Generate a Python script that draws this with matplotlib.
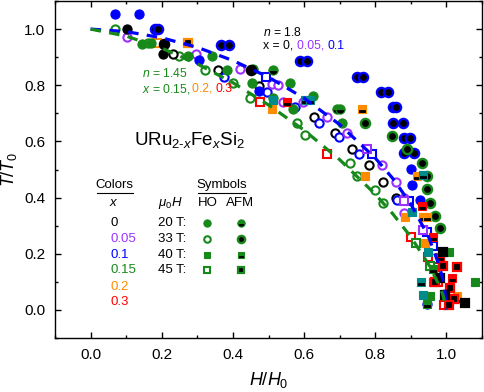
# URu2-xFexSi2 phase diagram, T/T0 vs H/H0
import matplotlib
matplotlib.use('Agg')
import matplotlib.pyplot as plt
import matplotlib.transforms as mtransforms
from matplotlib.ticker import MultipleLocator

plt.rcParams['font.family'] = ['Liberation Sans', 'DejaVu Sans']
plt.rcParams['mathtext.fontset'] = 'custom'
plt.rcParams['mathtext.rm'] = 'Liberation Sans'
plt.rcParams['mathtext.it'] = 'Liberation Sans:italic'

# colours for each Fe concentration
colors = {'0': 'black', '0.05': '#9b30ff', '0.1': '#0000ff', '0.15': '#17891a',
          '0.2': '#ff8c00', '0.3': '#ff0000', 'teal': '#008b8b'}
conc_labels = ['0', '0.05', '0.1', '0.15', '0.2', '0.3']
field_labels = ['20 T:', '33 T:', '40 T:', '45 T:']

# fit curves
fit18_h = [0.0, 0.1, 0.2, 0.3, 0.4, 0.5, 0.6, 0.7, 0.8, 0.85, 0.9, 0.95, 0.98, 0.99, 0.995, 1.0]
fit18_t = [1.0, 0.991, 0.969, 0.935, 0.888, 0.829, 0.754, 0.660, 0.541, 0.467, 0.377, 0.260, 0.157, 0.107, 0.073, 0.0]
fit145_h = [0.0, 0.1, 0.2, 0.3, 0.4, 0.5, 0.6, 0.7, 0.8, 0.85, 0.9, 0.95, 0.98, 0.99, 1.0]
fit145_t = [1.0, 0.975, 0.932, 0.876, 0.809, 0.730, 0.640, 0.535, 0.412, 0.341, 0.260, 0.162, 0.087, 0.054, 0.0]

# HO, 20 T: filled circles
ho20_h = [0.068, 0.135, 0.304, 0.473, 0.901, 0.904, 0.927, 0.946,
          0.144, 0.169, 0.273, 0.341, 0.383, 0.454, 0.513, 0.569, 0.561, 0.625, 0.707,
          0.101, 0.203]
ho20_t = [1.053, 1.053, 0.890, 0.781, 0.502, 0.445, 0.392, 0.021,
          0.947, 0.951, 0.905, 0.905, 0.855, 0.809, 0.756, 0.717, 0.809, 0.760, 0.664,
          1.000, 0.912]
ho20_c = ['0.1'] * 8 + ['0.15'] * 11 + ['0'] * 2

# HO, 33 T: open circles
ho33_h = [0.068, 0.161, 0.248, 0.321, 0.400, 0.448, 0.580, 0.603, 0.730, 0.749, 0.800, 0.823,
          0.231, 0.358, 0.473, 0.628, 0.687, 0.735, 0.783, 0.823, 0.859,
          0.375, 0.496, 0.575, 0.642, 0.699, 0.755, 0.862,
          0.101, 0.296, 0.420, 0.510, 0.527, 0.541, 0.597, 0.665, 0.721, 0.820, 0.859, 0.882, 0.882]
ho33_t = [1.000, 0.951, 0.905, 0.855, 0.809, 0.756, 0.664, 0.622, 0.523, 0.477, 0.428, 0.382,
          0.912, 0.855, 0.799, 0.686, 0.629, 0.572, 0.516, 0.456, 0.399,
          0.830, 0.777, 0.721, 0.664, 0.615, 0.555, 0.392,
          0.972, 0.912, 0.859, 0.806, 0.802, 0.739, 0.739, 0.686, 0.629, 0.516, 0.456, 0.399, 0.346]
ho33_c = ['0.15'] * 12 + ['0'] * 9 + ['0.1'] * 7 + ['0.05'] * 13

# HO, 40 T: filled squares
ho40_h = [0.510, 0.772, 0.885, 0.941, 1.031, 1.079, 0.963, 1.006, 0.955, 0.513, 0.904, 0.949, 0.935]
ho40_t = [0.714, 0.477, 0.332, 0.240, 0.049, 0.099, 0.099, 0.205, 0.049, 0.749, 0.350, 0.208, 0.053]
ho40_c = ['0.2'] * 5 + ['0.15'] * 4 + ['teal'] * 4

# HO, 45 T: open squares
ho45_h = [0.476, 0.665, 0.901, 0.949, 0.969, 0.975, 0.992,
          0.493, 0.792, 0.896, 0.946, 0.963,
          0.777, 0.935, 0.882, 0.915, 0.955, 0.186]
ho45_t = [0.739, 0.555, 0.261, 0.187, 0.152, 0.099, 0.018,
          0.830, 0.555, 0.389, 0.279, 0.226,
          0.572, 0.286, 0.389, 0.240, 0.155, 0.951]
ho45_c = ['0.3'] * 7 + ['0.1'] * 5 + ['0.05'] * 3 + ['0.15'] * 2 + ['0.2']

# AFM, 20 T: half filled circles
afm20_h = [0.456, 0.693, 0.701, 0.513]
afm20_t = [0.859, 0.717, 0.717, 0.855]
afm20_c = ['0.15'] * 4

# AFM, 33 T: black circles with coloured rim
afm33_h = [0.180, 0.189, 0.366, 0.389, 0.589, 0.608, 0.749, 0.766, 0.817, 0.837, 0.851, 0.859,
           0.851, 0.879, 0.882, 0.899, 0.882, 0.910,
           0.848, 0.890, 0.932, 0.946, 0.946, 0.955, 0.969, 0.983, 0.772,
           0.206, 0.451]
afm33_t = [1.000, 1.000, 0.943, 0.943, 0.887, 0.887, 0.830, 0.830, 0.777, 0.777, 0.721, 0.721,
           0.664, 0.664, 0.611, 0.611, 0.558, 0.558,
           0.618, 0.572, 0.523, 0.477, 0.431, 0.382, 0.336, 0.293, 0.664,
           0.947, 0.855]
afm33_c = ['0.1'] * 18 + ['0.15'] * 9 + ['0'] * 2

# AFM, 40 T: half filled squares
afm40_h = [0.763, 0.918, 0.935, 0.946, 1.031, 0.603, 0.617, 0.935, 0.928,
           0.552, 0.932, 0.961, 0.983, 1.017, 0.963, 0.946]
afm40_t = [0.714, 0.477, 0.332, 0.332, 0.039, 0.749, 0.749, 0.481, 0.099,
           0.742, 0.371, 0.261, 0.187, 0.113, 0.145, 0.021]
afm40_c = ['0.2'] * 5 + ['teal'] * 4 + ['0.3'] * 5 + ['0.15'] * 2

# AFM, 45 T: black squares with coloured rim
afm45_h = [0.273, 0.989, 1.031, 1.020, 1.006, 1.011, 0.969, 0.997, 1.051, 0.989, 0.983]
afm45_t = [0.951, 0.155, 0.152, 0.039, 0.018, 0.078, 0.099, 0.053, 0.025, 0.205, 0.113]
afm45_c = ['0.2'] + ['0.3'] * 6 + ['0'] * 4

MS = 6.6


def style_ho20(col, ms=MS):
    return dict(marker='o', ms=ms, mfc=col, mec=col, mew=0.8)

def style_ho33(col, ms=MS):
    return dict(marker='o', ms=ms * 0.9, mfc='white', mec=col, mew=1.5)

def style_ho40(col, ms=MS):
    return dict(marker='s', ms=ms * 0.85, mfc=col, mec=col, mew=0.8)

def style_ho45(col, ms=MS):
    return dict(marker='s', ms=ms * 0.8, mfc='white', mec=col, mew=1.5)

def style_afm20(col, ms=MS):
    return dict(marker='o', ms=ms, fillstyle='bottom', mfc='black', mfcalt=col, mec=col, mew=0.8)

def style_afm33(col, ms=MS):
    return dict(marker='o', ms=ms, mfc='black', mec=col, mew=1.7)

def style_afm40(col, ms=MS):
    return dict(marker='s', ms=ms * 0.85, fillstyle='bottom', mfc='black', mfcalt=col, mec=col, mew=0.8)

def style_afm45(col, ms=MS):
    return dict(marker='s', ms=ms * 0.85, mfc='black', mec=col, mew=1.6)


fig = plt.figure(figsize=(4.84, 3.92), dpi=100)
ax = fig.add_axes([55 / 484, 54 / 392, 427 / 484, 337 / 392])


def draw(h, t, c, style):
    for key in dict.fromkeys(c):
        xs = [a for a, k in zip(h, c) if k == key]
        ys = [b for b, k in zip(t, c) if k == key]
        ax.plot(xs, ys, ls='none', zorder=3, **style(colors[key]))


draw(ho33_h, ho33_t, ho33_c, style_ho33)
draw(ho45_h, ho45_t, ho45_c, style_ho45)
draw(ho20_h, ho20_t, ho20_c, style_ho20)
draw(ho40_h, ho40_t, ho40_c, style_ho40)
draw(afm20_h, afm20_t, afm20_c, style_afm20)
draw(afm33_h, afm33_t, afm33_c, style_afm33)
draw(afm40_h, afm40_t, afm40_c, style_afm40)
draw(afm45_h, afm45_t, afm45_c, style_afm45)

# fit lines on top
ax.plot(fit18_h, fit18_t, color='#0000ff', lw=2.3, dashes=(3.3, 2.6), zorder=4)
ax.plot(fit145_h, fit145_t, color='#17891a', lw=2.3, dashes=(3.3, 2.6), zorder=4)

ax.set_xlim(-0.1, 1.1)
ax.set_ylim(-0.1, 1.1)
ax.xaxis.set_minor_locator(MultipleLocator(0.1))
ax.yaxis.set_minor_locator(MultipleLocator(0.1))
ax.set_xticks([0.0, 0.2, 0.4, 0.6, 0.8, 1.0])
ax.set_yticks([0.0, 0.2, 0.4, 0.6, 0.8, 1.0])
ax.tick_params(which='both', direction='in', top=True, right=True, width=1.0, labelsize=11, pad=7)
ax.tick_params(which='major', length=4.5)
ax.tick_params(which='minor', length=2.5)
for sp in ax.spines.values():
    sp.set_linewidth(1.0)
ax.set_xlabel(r'$\mathit{H/H_0}$', fontsize=13, labelpad=6)
ax.set_ylabel(r'$\mathit{T/T_0}$', fontsize=13, labelpad=4)

renderer = fig.canvas.get_renderer()


def color_text(x, y, parts, **kw):
    tr = ax.transData
    for s, c in parts:
        txt = ax.text(x, y, s, color=c, transform=tr, va='center', zorder=6, **kw)
        txt.draw(renderer)
        ex = txt.get_window_extent(renderer)
        tr = mtransforms.offset_copy(txt.get_transform(), x=ex.width, units='dots')


color_text(0.485, 0.989, [(r'$n$ = 1.8', 'black')], fontsize=8.8)
color_text(0.485, 0.940, [('x = 0, ', 'black'), ('0.05, ', colors['0.05']), ('0.1', colors['0.1'])], fontsize=8.8)
color_text(0.144, 0.841, [(r'$n$ = 1.45', colors['0.15'])], fontsize=8.8)
color_text(0.144, 0.788, [(r'$x$ = 0.15, ', colors['0.15']), ('0.2, ', colors['0.2']), ('0.3', colors['0.3'])], fontsize=8.8)

ax.text(0.121, 0.604, r'URu$_{\mathrm{2\text{-}}x}$Fe$_x$Si$_\mathrm{2}$', fontsize=13.5, va='center', zorder=6)

# hand-made legend
ax.text(0.068, 0.445, 'Colors', fontsize=9.5, ha='center', va='center')
ax.plot([0.017, 0.119], [0.418, 0.418], color='black', lw=0.8)
ax.text(0.066, 0.380, r'$x$', fontsize=9.5, ha='center', va='center')
row_y = [0.311, 0.254, 0.194, 0.141, 0.081, 0.028]
for lab, yy in zip(conc_labels, row_y):
    ax.text(0.056, yy, lab, fontsize=9.5, color=colors[lab], va='center')

ax.text(0.369, 0.445, 'Symbols', fontsize=9.5, ha='center', va='center')
ax.plot([0.302, 0.437], [0.418, 0.418], color='black', lw=0.8)
ax.text(0.223, 0.380, r'$\mu_0H$', fontsize=9.5, ha='center', va='center')
ax.text(0.330, 0.380, 'HO', fontsize=9.5, ha='center', va='center')
ax.text(0.420, 0.380, 'AFM', fontsize=9.5, ha='center', va='center')
ho_styles = [style_ho20, style_ho33, style_ho40, style_ho45]
afm_styles = [style_afm20, style_afm33, style_afm40, style_afm45]
for lab, yy, s1, s2 in zip(field_labels, row_y, ho_styles, afm_styles):
    ax.text(0.190, yy, lab, fontsize=9.5, va='center')
    ax.plot([0.327], [yy], ls='none', **s1(colors['0.15'], ms=5.2))
    ax.plot([0.423], [yy], ls='none', **s2(colors['0.15'], ms=5.2))

fig.savefig('out.png', dpi=100)
